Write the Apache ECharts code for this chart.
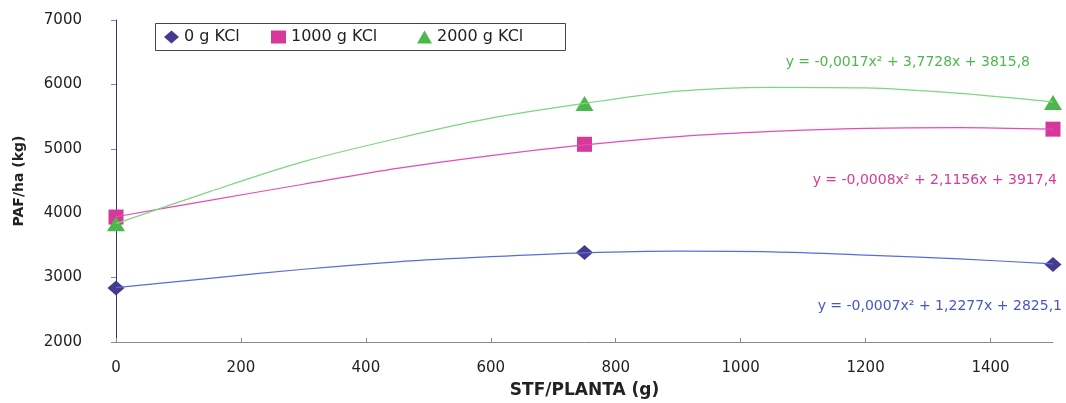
<!DOCTYPE html>
<html>
<head>
<meta charset="utf-8">
<script src="https://cdn.jsdelivr.net/npm/echarts@6/dist/echarts.min.js"></script>
<style>
  html, body { margin: 0; padding: 0; background: #fff; }
  #chart { width: 1066px; height: 403px; }
</style>
</head>
<body>
<div id="chart"></div>
<script>
// doses de STF por planta (g) e produção medida
var doses = [0, 750, 1500];
var kcl0 = [2840, 3390, 3205];
var kcl1000 = [3940, 5070, 5305];
var kcl2000 = [3835, 5705, 5720];

var trendX = [0, 150, 300, 450, 600, 750, 900, 1050, 1200, 1350, 1500];
var trend0 = [2844, 2989, 3130, 3245, 3325, 3385, 3410, 3400, 3350, 3290, 3213];
var trend1000 = [3945, 4200, 4450, 4695, 4895, 5060, 5190, 5270, 5318, 5330, 5305];
var trend2000 = [3838, 4335, 4800, 5160, 5475, 5705, 5895, 5955, 5945, 5860, 5729];

var seriesNames = ['0 g KCl', '1000 g KCl', '2000 g KCl'];
var legendIcons = ['diamond', 'rect', 'triangle'];
var equations = [
    'y = -0,0007x² + 1,2277x + 2825,1',
    'y = -0,0008x² + 2,1156x + 3917,4',
    'y = -0,0017x² + 3,7728x + 3815,8'
];

function pairs(xs, ys) {
    return xs.map(function (x, i) { return [x, ys[i]]; });
}

var myCharts = echarts.init(document.getElementById('chart'));

var font = 'DejaVu Sans, Verdana, sans-serif';

// uma legenda por série, dentro de uma moldura comum
var legendLeft = [164, 271, 417];
var legends = seriesNames.map(function (name, i) {
    return {
        left: legendLeft[i],
        top: 29,
        padding: 0,
        itemWidth: 15,
        itemHeight: 13,
        itemGap: 0,
        textStyle: { fontFamily: font, fontSize: 16, color: '#222' },
        data: [{ name: name, icon: legendIcons[i] }]
    };
});

var option = {
    backgroundColor: '#fff',
    animation: false,
    grid: {
        left: 116,
        right: 13,
        top: 20,
        bottom: 61,
        outerBoundsMode: 'none'
    },
    legend: legends,
    xAxis: {
        type: 'value',
        min: 0,
        max: 1500,
        interval: 200,
        name: 'STF/PLANTA (g)',
        nameLocation: 'middle',
        nameGap: 40,
        nameTextStyle: { fontFamily: font, fontSize: 17, fontWeight: 'bold', color: '#222' },
        axisLine: { lineStyle: { color: '#888', width: 1 } },
        axisTick: { show: true, inside: true, length: 4, lineStyle: { color: '#888' } },
        axisLabel: {
            fontFamily: font, fontSize: 15, color: '#222', margin: 19, showMaxLabel: false,
            formatter: function (v) { return String(v); }
        },
        splitLine: { show: false }
    },
    yAxis: {
        type: 'value',
        min: 2000,
        max: 7000,
        interval: 1000,
        name: 'PAF/ha (kg)',
        nameLocation: 'middle',
        nameGap: 90,
        nameTextStyle: { fontFamily: font, fontSize: 14, fontWeight: 'bold', color: '#222' },
        axisLine: { show: true, lineStyle: { color: '#3a3470', width: 1 } },
        axisTick: { show: true, length: 5, lineStyle: { color: '#888' } },
        axisLabel: {
            fontFamily: font, fontSize: 15, color: '#222', margin: 34,
            formatter: function (v) { return String(v); }
        },
        splitLine: { show: false }
    },
    graphic: [
        {
            type: 'rect', left: 153, top: 21, silent: true,
            shape: { width: 410, height: 27 },
            style: { fill: 'none', stroke: '#444', lineWidth: 1 }
        },
        {
            type: 'text', right: 36, top: 55,
            style: { text: equations[2], fill: '#4cb84c', font: '14px ' + font }
        },
        {
            type: 'text', right: 9, top: 173,
            style: { text: equations[1], fill: '#d83a96', font: '14px ' + font }
        },
        {
            type: 'text', right: 4, top: 299,
            style: { text: equations[0], fill: '#4a55c8', font: '14px ' + font }
        }
    ],
    series: [
        {
            name: 'trend0', type: 'line', smooth: 0.3, showSymbol: false, silent: true,
            lineStyle: { color: '#5a6be0', width: 1.2 },
            data: pairs(trendX, trend0)
        },
        {
            name: 'trend1000', type: 'line', smooth: 0.3, showSymbol: false, silent: true,
            lineStyle: { color: '#e44cb8', width: 1.2 },
            data: pairs(trendX, trend1000)
        },
        {
            name: 'trend2000', type: 'line', smooth: 0.3, showSymbol: false, silent: true,
            lineStyle: { color: '#7ed67e', width: 1.2 },
            data: pairs(trendX, trend2000)
        },
        {
            name: seriesNames[0], type: 'scatter', symbol: 'diamond', symbolSize: [17, 15],
            itemStyle: { color: '#463a8c', opacity: 1 },
            data: pairs(doses, kcl0)
        },
        {
            name: seriesNames[1], type: 'scatter', symbol: 'rect', symbolSize: 15,
            itemStyle: { color: '#d6399a', opacity: 1 },
            data: pairs(doses, kcl1000)
        },
        {
            name: seriesNames[2], type: 'scatter', symbol: 'triangle', symbolSize: [18, 15],
            itemStyle: { color: '#4cb84c', opacity: 1 },
            data: pairs(doses, kcl2000)
        }
    ]
};

myCharts.setOption(option);

window.addEventListener('resize', function () {
    myCharts.resize();
});
</script>
</body>
</html>
